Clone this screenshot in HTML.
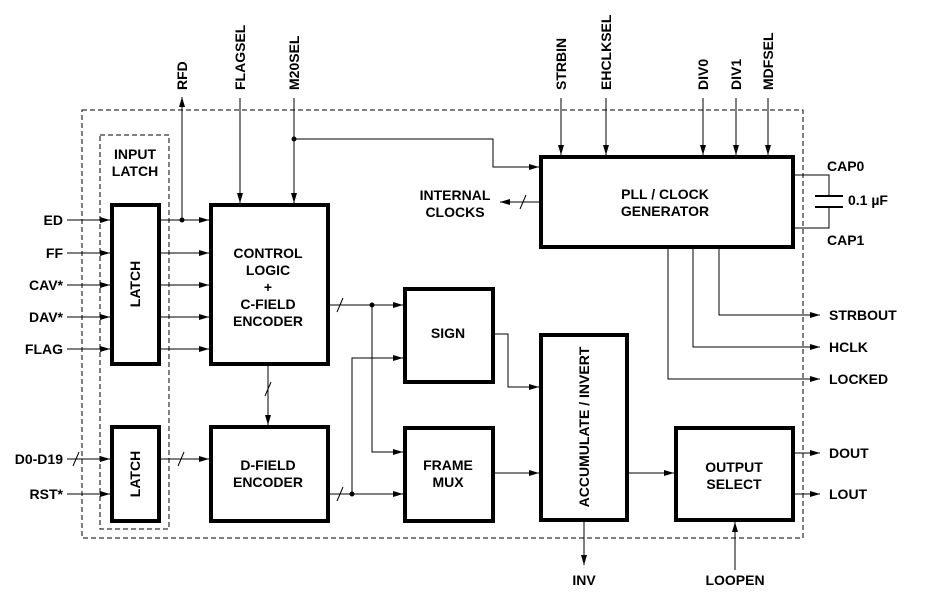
<!DOCTYPE html>
<html><head><meta charset="utf-8"><style>
html,body{margin:0;padding:0;background:#fff}
svg{display:block}
text{font-family:"Liberation Sans",Arial,sans-serif;font-weight:bold;font-size:14px;fill:#000}
</style></head><body>
<svg width="935" height="600" viewBox="0 0 935 600" xmlns="http://www.w3.org/2000/svg">
<defs><marker id="a" markerWidth="10" markerHeight="8" refX="10" refY="4" orient="auto" markerUnits="userSpaceOnUse"><path d="M0,1 L10,4 L0,7 Z" fill="#000"/></marker></defs>
<g fill="none" stroke="#000" stroke-width="1">
<rect x="82" y="110" width="721" height="428" stroke-dasharray="5,3"/>
<rect x="100" y="135" width="69" height="394" stroke-dasharray="5,3"/>
</g>
<g fill="#fff" stroke="#000" stroke-width="4">
<rect x="112" y="205" width="47" height="159"/>
<rect x="112" y="427" width="47" height="94"/>
<rect x="211" y="205" width="117" height="159"/>
<rect x="211" y="427" width="117" height="94"/>
<rect x="405" y="289" width="88" height="93"/>
<rect x="405" y="428" width="88" height="93"/>
<rect x="541" y="335" width="86" height="185"/>
<rect x="676" y="428" width="117" height="92"/>
<rect x="541" y="157" width="252" height="90"/>
</g>
<g fill="none" stroke="#000" stroke-width="1">
<line x1="67" y1="220" x2="110" y2="220" marker-end="url(#a)"/>
<line x1="67" y1="253" x2="110" y2="253" marker-end="url(#a)"/>
<line x1="67" y1="285" x2="110" y2="285" marker-end="url(#a)"/>
<line x1="67" y1="317" x2="110" y2="317" marker-end="url(#a)"/>
<line x1="67" y1="349" x2="110" y2="349" marker-end="url(#a)"/>
<line x1="67" y1="459" x2="110" y2="459" marker-end="url(#a)"/>
<line x1="67" y1="494" x2="110" y2="494" marker-end="url(#a)"/>
<line x1="73" y1="466" x2="79" y2="452"/>
<line x1="161" y1="220" x2="209" y2="220" marker-end="url(#a)"/>
<line x1="161" y1="253" x2="209" y2="253" marker-end="url(#a)"/>
<line x1="161" y1="285" x2="209" y2="285" marker-end="url(#a)"/>
<line x1="161" y1="317" x2="209" y2="317" marker-end="url(#a)"/>
<line x1="161" y1="349" x2="209" y2="349" marker-end="url(#a)"/>
<line x1="161" y1="459" x2="209" y2="459" marker-end="url(#a)"/>
<line x1="178" y1="466" x2="184" y2="452"/>
<line x1="182" y1="220" x2="182" y2="97" marker-end="url(#a)"/>
<line x1="240" y1="98" x2="240" y2="203" marker-end="url(#a)"/>
<line x1="294" y1="98" x2="294" y2="203" marker-end="url(#a)"/>
<polyline points="294,139 493,139 493,167 539,167" marker-end="url(#a)"/>
<line x1="268" y1="366" x2="268" y2="425" marker-end="url(#a)"/>
<line x1="265" y1="396" x2="271" y2="382"/>
<line x1="330" y1="305" x2="403" y2="305" marker-end="url(#a)"/>
<line x1="337" y1="312" x2="343" y2="298"/>
<polyline points="372,305 372,452 403,452" marker-end="url(#a)"/>
<line x1="330" y1="494" x2="403" y2="494" marker-end="url(#a)"/>
<line x1="337" y1="501" x2="343" y2="487"/>
<polyline points="352,494 352,358 403,358" marker-end="url(#a)"/>
<polyline points="495,334 508,334 508,387 539,387" marker-end="url(#a)"/>
<line x1="495" y1="473" x2="539" y2="473" marker-end="url(#a)"/>
<line x1="629" y1="473" x2="674" y2="473" marker-end="url(#a)"/>
<line x1="584" y1="522" x2="584" y2="565" marker-end="url(#a)"/>
<line x1="735" y1="570" x2="735" y2="522" marker-end="url(#a)"/>
<line x1="795" y1="453" x2="820" y2="453" marker-end="url(#a)"/>
<line x1="795" y1="494" x2="820" y2="494" marker-end="url(#a)"/>
<line x1="561" y1="98" x2="561" y2="155" marker-end="url(#a)"/>
<line x1="606" y1="98" x2="606" y2="155" marker-end="url(#a)"/>
<line x1="703" y1="98" x2="703" y2="155" marker-end="url(#a)"/>
<line x1="736" y1="98" x2="736" y2="155" marker-end="url(#a)"/>
<line x1="768" y1="98" x2="768" y2="155" marker-end="url(#a)"/>
<line x1="539" y1="202" x2="500" y2="202" marker-end="url(#a)"/>
<line x1="520" y1="209" x2="526" y2="195"/>
<polyline points="795,175 829,175 829,196"/>
<polyline points="795,228 829,228 829,207"/>
<line x1="815" y1="196" x2="843" y2="196" stroke-width="2"/>
<line x1="815" y1="207" x2="843" y2="207" stroke-width="2"/>
<polyline points="719,249 719,315 820,315" marker-end="url(#a)"/>
<polyline points="693,249 693,347 820,347" marker-end="url(#a)"/>
<polyline points="668,249 668,379 820,379" marker-end="url(#a)"/>
</g>
<g fill="#000"><circle cx="182" cy="220" r="2.5"/><circle cx="294" cy="139" r="2.5"/><circle cx="372" cy="305" r="2.5"/><circle cx="352" cy="494" r="2.5"/></g>
<g text-anchor="end">
<text x="63" y="225">ED</text><text x="63" y="258">FF</text><text x="63" y="290">CAV*</text><text x="63" y="322">DAV*</text><text x="63" y="354">FLAG</text><text x="63" y="464">D0-D19</text><text x="63" y="499">RST*</text>
</g>
<g text-anchor="middle">
<text x="135" y="159">INPUT</text><text x="135" y="176">LATCH</text>
<text transform="translate(140,284) rotate(-90)">LATCH</text>
<text transform="translate(140,474) rotate(-90)">LATCH</text>
<text x="268" y="258">CONTROL</text><text x="268" y="275">LOGIC</text><text x="268" y="292">+</text><text x="268" y="309">C-FIELD</text><text x="268" y="326">ENCODER</text>
<text x="268" y="470">D-FIELD</text><text x="268" y="487">ENCODER</text>
<text x="448" y="338">SIGN</text>
<text x="448" y="470">FRAME</text><text x="448" y="487">MUX</text>
<text transform="translate(589,427) rotate(-90)">ACCUMULATE / INVERT</text>
<text x="734" y="472">OUTPUT</text><text x="734" y="489">SELECT</text>
<text x="665" y="199">PLL / CLOCK</text><text x="665" y="216">GENERATOR</text>
<text x="455" y="200">INTERNAL</text><text x="455" y="217">CLOCKS</text>
<text x="584" y="585">INV</text><text x="735" y="585">LOOPEN</text>
</g>
<g>
<text transform="translate(187,90) rotate(-90)">RFD</text>
<text transform="translate(245,90) rotate(-90)">FLAGSEL</text>
<text transform="translate(299,90) rotate(-90)">M20SEL</text>
<text transform="translate(566,90) rotate(-90)">STRBIN</text>
<text transform="translate(611,90) rotate(-90)">EHCLKSEL</text>
<text transform="translate(708,90) rotate(-90)">DIV0</text>
<text transform="translate(741,90) rotate(-90)">DIV1</text>
<text transform="translate(773,90) rotate(-90)">MDFSEL</text>
<text x="827" y="171">CAP0</text><text x="827" y="245">CAP1</text><text x="848" y="205">0.1 µF</text>
<text x="829" y="320">STRBOUT</text><text x="829" y="352">HCLK</text><text x="829" y="384">LOCKED</text>
<text x="829" y="458">DOUT</text><text x="829" y="499">LOUT</text>
</g>
</svg>
</body></html>
